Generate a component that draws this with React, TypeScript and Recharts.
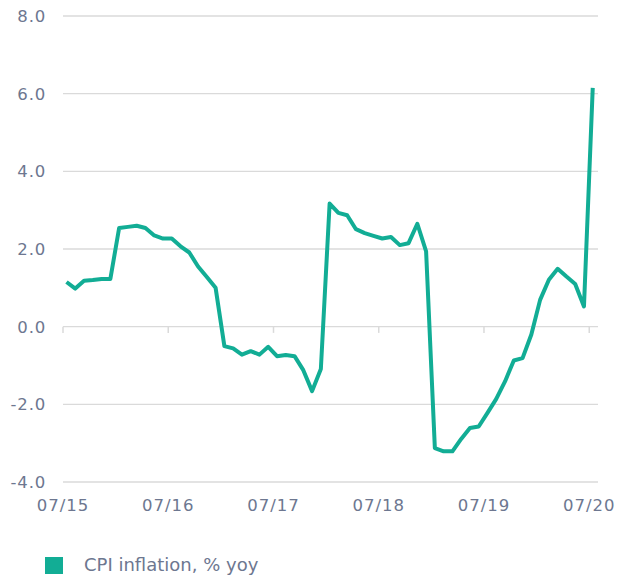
import React from "react";
import {
  LineChart, Line, XAxis, YAxis, CartesianGrid, ReferenceLine,
} from "recharts";

// CPI inflation, % yoy — monthly, 07/15 .. 07/20
const CPI_YOY: number[] = [
  1.15, 0.98, 1.18, 1.2, 1.23, 1.23,
  2.54, 2.57, 2.6, 2.54, 2.35, 2.27, 2.27,
  2.07, 1.91, 1.55, 1.28, 1.0,
  -0.5, -0.56, -0.72, -0.63, -0.72, -0.52, -0.76, -0.73, -0.76, -1.12, -1.66, -1.09,
  3.17, 2.93, 2.87, 2.51, 2.41, 2.34, 2.27, 2.31, 2.1, 2.15, 2.65, 1.94,
  -3.13, -3.21, -3.21, -2.89, -2.61, -2.57, -2.22, -1.86, -1.41, -0.87, -0.81, -0.2,
  0.69, 1.21, 1.49, 1.29, 1.1, 0.52, 6.15,
];

const TICK_LABELS = ["07/15", "07/16", "07/17", "07/18", "07/19", "07/20"];
const TICK_MONTHS = [0, 12, 24, 36, 48, 60];
const Y_TICKS = [-4, -2, 0, 2, 4, 6, 8];

// readings sit a little after the start of their month
const MONTH_OFFSET = 0.4;

const data = CPI_YOY.map((v, i) => ({ m: i + MONTH_OFFSET, cpi: v }));

const TEAL = "#12ad95";
const GRID = "#dadada";
const LABEL = "#6d7790";
const FONT = "'DejaVu Sans', sans-serif";

export default function App() {
  return (
    <div style={{ position: "absolute", left: 0, top: 0, width: 623, height: 578, background: "#fff", fontFamily: FONT }}>
      <LineChart width={623} height={540} data={data} margin={{ top: 16, right: 25, left: 0, bottom: 28 }}>
        <CartesianGrid vertical={false} stroke={GRID} strokeWidth={1.3} />
        <XAxis
          dataKey="m" type="number" domain={[0, 61]} ticks={TICK_MONTHS}
          tickFormatter={(v: number) => TICK_LABELS[TICK_MONTHS.indexOf(v)] ?? ""}
          axisLine={false} tickLine={false} tickMargin={11} height={30}
          tick={{ fill: LABEL, fontSize: 16.5, fontFamily: FONT, letterSpacing: 1 }}
        />
        <YAxis
          domain={[-4, 8]} ticks={Y_TICKS} width={63}
          tickFormatter={(v: number) => v.toFixed(1)}
          axisLine={false} tickLine={false} tickMargin={11}
          tick={{ fill: LABEL, fontSize: 16.5, fontFamily: FONT, letterSpacing: 0.8 }}
        />
        {/* small tick marks hanging under the zero line */}
        {TICK_MONTHS.map(m => (
          <ReferenceLine key={m} segment={[{ x: m, y: 0 }, { x: m, y: -0.16 }]} stroke={GRID} strokeWidth={1.5} />
        ))}
        <Line
          dataKey="cpi" stroke={TEAL} strokeWidth={4} dot={false}
          strokeLinejoin="round" isAnimationActive={false}
        />
      </LineChart>

      <div style={{ position: "absolute", left: 45, top: 553, width: 300, height: 24, display: "flex", alignItems: "center", whiteSpace: "nowrap" }}>
        <span style={{ width: 18, height: 17, background: TEAL, display: "inline-block", flexShrink: 0 }} />
        <span style={{ marginLeft: 21, fontSize: 18, lineHeight: "24px", color: LABEL }}>CPI inflation, % yoy</span>
      </div>
    </div>
  );
}
